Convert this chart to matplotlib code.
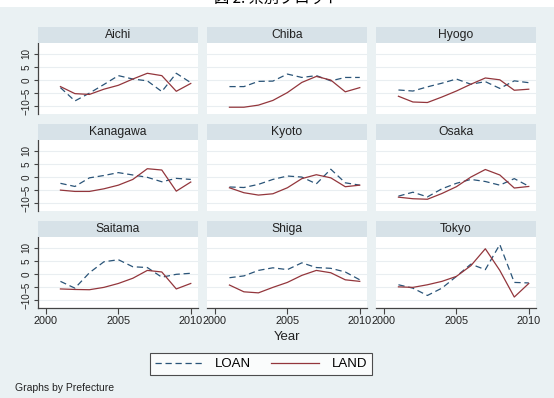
import matplotlib
matplotlib.use('Agg')
import matplotlib.pyplot as plt
from matplotlib.patches import Rectangle
from matplotlib.lines import Line2D

years = [2001, 2002, 2003, 2004, 2005, 2006, 2007, 2008, 2009, 2010]

prefectures = ['Aichi', 'Chiba', 'Hyogo',
               'Kanagawa', 'Kyoto', 'Osaka',
               'Saitama', 'Shiga', 'Tokyo']

loan = {
    'Aichi':    [-2.9, -8.0, -5.0, -1.7, 1.7, 0.4, -0.3, -4.4, 2.6, -1.0],
    'Chiba':    [-2.5, -2.5, -0.5, -0.4, 2.3, 1.0, 1.7, -0.3, 1.0, 1.0],
    'Hyogo':    [-3.8, -4.2, -2.6, -1.2, 0.4, -1.6, -0.6, -3.2, -0.3, -1.0],
    'Kanagawa': [-2.4, -3.6, -0.3, 0.6, 1.7, 0.8, -0.1, -1.8, -0.5, -0.9],
    'Kyoto':    [-3.8, -4.0, -2.8, -0.9, 0.4, 0.0, -2.6, 3.0, -2.2, -3.1],
    'Osaka':    [-7.3, -5.8, -7.6, -4.5, -2.4, -0.9, -1.7, -3.1, -0.6, -3.5],
    'Saitama':  [-2.8, -5.4, 0.5, 4.7, 5.5, 2.8, 2.5, -1.2, -0.1, 0.3],
    'Shiga':    [-1.4, -0.7, 1.4, 2.4, 1.7, 4.3, 2.5, 2.2, 0.8, -2.2],
    'Tokyo':    [-4.1, -5.4, -8.2, -5.4, -0.9, 3.8, 1.7, 11.3, -3.2, -3.4],
}

land = {
    'Aichi':    [-2.5, -5.2, -5.5, -3.5, -2.0, 0.4, 2.6, 1.7, -4.3, -1.3],
    'Chiba':    [-10.4, -10.4, -9.6, -7.8, -4.8, -0.9, 1.4, 0.0, -4.5, -2.9],
    'Hyogo':    [-6.2, -8.4, -8.6, -6.5, -4.2, -1.6, 0.8, 0.1, -3.9, -3.5],
    'Kanagawa': [-5.0, -5.5, -5.5, -4.5, -3.1, -0.9, 3.2, 2.7, -5.4, -1.9],
    'Kyoto':    [-4.1, -6.0, -6.9, -6.4, -4.1, -0.6, 0.9, -0.3, -3.7, -3.1],
    'Osaka':    [-7.7, -8.3, -8.5, -6.3, -3.7, 0.0, 2.9, 0.8, -4.2, -3.6],
    'Saitama':  [-5.7, -5.9, -6.0, -5.1, -3.6, -1.6, 1.4, 0.8, -5.7, -3.6],
    'Shiga':    [-4.2, -6.8, -7.2, -5.1, -3.2, -0.5, 1.4, 0.5, -2.2, -2.8],
    'Tokyo':    [-4.9, -5.1, -4.1, -2.8, -0.9, 3.2, 9.7, 1.4, -8.8, -3.6],
}

yticks = [-10, -5, 0, 5, 10]
xticks = [2000, 2005, 2010]

W, H = 554, 398
bg = '#eaf1f3'
strip = '#d7e2e8'
navy = '#2a5478'
maroon = '#93363c'


def box(x, y, w, h):
    # pixel box (top-left origin) -> figure fraction
    return [x / W, 1 - (y + h) / H, w / W, h / H]


fig = plt.figure(figsize=(W / 100, H / 100), dpi=100)
fig.patch.set_facecolor('white')
fig.add_artist(Rectangle((0, 0), 1, 1 - 7 / H, transform=fig.transFigure,
                         facecolor=bg, edgecolor='none', zorder=-10))

# title is cut off at the top edge, as in the original
fig.text(0.5, 1 - 7 / H, '図 2. 県別プロット', ha='center', va='bottom',
         fontsize=11, family=['Noto Sans CJK JP', 'DejaVu Sans'])

lefts = [38, 207, 376]
tops = [27, 124, 221]
pw, sh, ph = 160, 16, 71

for i, name in enumerate(prefectures):
    r, c = divmod(i, 3)
    x0, y0 = lefts[c], tops[r]
    fig.add_artist(Rectangle(box(x0, y0, pw, sh)[:2], pw / W, sh / H,
                             transform=fig.transFigure, facecolor=strip,
                             edgecolor='none'))
    fig.text((x0 + pw / 2) / W, 1 - (y0 + sh / 2) / H, name, ha='center',
             va='center', fontsize=8.7, family='Liberation Sans', color='#222222')

    ax = fig.add_axes(box(x0, y0 + sh, pw, ph))
    ax.set_facecolor('white')
    ax.plot(years, loan[name], color=navy, lw=0.9, ls=(0, (5, 3)))
    ax.plot(years, land[name], color=maroon, lw=0.9)
    ax.set_xlim(1999.45, 2010.5)
    ax.set_ylim(-13, 14.2)
    ax.set_yticks(yticks)
    ax.set_xticks(xticks)
    for yv in yticks:
        ax.axhline(yv, color='#e9eef1', lw=0.8, zorder=0)
    for s in ax.spines.values():
        s.set_visible(False)
    ax.tick_params(colors='#444444', width=0.8)
    if c == 0:
        ax.spines['left'].set_visible(True)
        ax.spines['left'].set_color('#444444')
        ax.spines['left'].set_linewidth(0.9)
        ax.set_yticklabels(['−10', '−5', '0', '5', '10'], rotation=90,
                           va='center', fontsize=7.1, family='Liberation Sans',
                           color='#222222')
        ax.tick_params(axis='y', length=3, pad=1.5)
    else:
        ax.tick_params(axis='y', left=False, labelleft=False)
    if r == 2:
        ax.spines['bottom'].set_visible(True)
        ax.spines['bottom'].set_color('#444444')
        ax.spines['bottom'].set_linewidth(0.9)
        ax.set_xticklabels([str(v) for v in xticks], fontsize=7.8,
                           family='Liberation Sans', color='#222222')
        ax.tick_params(axis='x', length=4, pad=2)
    else:
        ax.tick_params(axis='x', bottom=False, labelbottom=False)

fig.text(287 / W, 1 - 337 / H, 'Year', ha='center', va='center',
         fontsize=9.5, family='Liberation Sans', color='#222222')

handles = [Line2D([], [], color=navy, lw=0.9, ls=(0, (5, 3))),
           Line2D([], [], color=maroon, lw=0.9)]
leg = fig.legend(handles, ['LOAN', 'LAND'], loc='center',
                 bbox_to_anchor=(261 / W, 1 - 364 / H), ncol=2,
                 frameon=True, fancybox=False, handlelength=3.6,
                 handletextpad=1.0, columnspacing=1.5, borderpad=0.35,
                 prop={'family': 'Liberation Sans', 'size': 9.5})
leg.get_frame().set_edgecolor('#222222')
leg.get_frame().set_linewidth(0.8)
leg.get_frame().set_facecolor('white')

fig.text(15 / W, 1 - 388 / H, 'Graphs by Prefecture', ha='left', va='center',
         fontsize=7.5, family='Liberation Sans', color='#222222')

fig.savefig('out.png', dpi=100, facecolor=fig.get_facecolor())
